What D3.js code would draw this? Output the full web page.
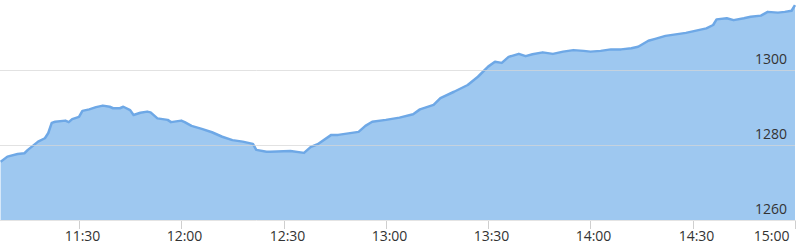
<!DOCTYPE html>
<html>
<head>
<meta charset="utf-8">
<script src="https://cdn.jsdelivr.net/npm/d3@7"></script>
<style>
  body { margin: 0; background: #fff; }
  svg { display: block; font-family: "Open Sans", sans-serif; }
  .tick-label { font-size: 14px; fill: #333; }
</style>
</head>
<body>
<div id="chart"></div>
<script>
// intraday index level
const times = [
    "11:07", "11:09", "11:12", "11:14", "11:15", "11:18", "11:20", "11:21", "11:22", "11:23",
    "11:26", "11:27", "11:28", "11:30", "11:31", "11:33", "11:35", "11:37", "11:39", "11:40",
    "11:42", "11:43", "11:45", "11:46", "11:48", "11:50", "11:51", "11:53", "11:56", "11:57",
    "12:00", "12:01", "12:03", "12:06", "12:09", "12:12", "12:15", "12:18", "12:21", "12:22",
    "12:25", "12:26", "12:32", "12:36", "12:38", "12:40", "12:44", "12:46", "12:49", "12:52",
    "12:54", "12:56", "13:00", "13:04", "13:08", "13:10", "13:14", "13:16", "13:20", "13:24",
    "13:27", "13:30", "13:32", "13:34", "13:36", "13:39", "13:41", "13:43", "13:46", "13:49",
    "13:52", "13:55", "13:58", "14:00", "14:03", "14:06", "14:09", "14:12", "14:14", "14:17",
    "14:19", "14:22", "14:25", "14:28", "14:31", "14:34", "14:36", "14:37", "14:40", "14:42",
    "14:45", "14:47", "14:50", "14:52", "14:55", "14:57", "14:59", "15:00"
];
const values = [
    1275.5, 1276.9, 1277.6, 1277.8, 1278.7, 1280.9, 1281.8, 1283.2, 1285.9, 1286.2,
    1286.5, 1286.1, 1286.9, 1287.5, 1289.1, 1289.5, 1290.1, 1290.5, 1290.2, 1289.8,
    1289.8, 1290.2, 1289.3, 1288.0, 1288.6, 1288.9, 1288.7, 1287.1, 1286.7, 1286.1,
    1286.5, 1286.1, 1285.1, 1284.3, 1283.4, 1282.2, 1281.3, 1280.9, 1280.3, 1278.7,
    1278.2, 1278.2, 1278.4, 1277.9, 1279.5, 1280.2, 1282.7, 1282.7, 1283.1, 1283.5,
    1285.1, 1286.2, 1286.7, 1287.3, 1288.2, 1289.5, 1290.7, 1292.5, 1294.2, 1296.0,
    1298.2, 1300.9, 1302.2, 1301.9, 1303.5, 1304.3, 1303.7, 1304.2, 1304.7, 1304.3,
    1304.9, 1305.3, 1305.1, 1304.9, 1305.1, 1305.5, 1305.5, 1305.8, 1306.2, 1307.8,
    1308.3, 1309.1, 1309.5, 1309.9, 1310.5, 1311.1, 1312.0, 1313.5, 1313.8, 1313.3,
    1313.8, 1314.2, 1314.5, 1315.5, 1315.3, 1315.5, 1315.8, 1317.3
];
const xTicks = ["11:30", "12:00", "12:30", "13:00", "13:30", "14:00", "14:30", "15:00"];
const yTicks = [1260, 1280, 1300];

const parseTime = d3.timeParse("%H:%M");
const data = times.map((t, i) => ({ t: parseTime(t), v: values[i] }));

const width = 800, height = 246;
const plotRight = 795, plotBottom = 220;

const svg = d3.select("#chart").append("svg")
    .attr("width", width)
    .attr("height", height);

// scales
const x = d3.scaleTime()
    .domain([parseTime("11:30"), parseTime("15:00")])
    .range([79, plotRight]);

const y = d3.scaleLinear()
    .domain([1260, 1300])
    .range([plotBottom, 70]);

// area + line
const area = d3.area()
    .x(d => x(d.t))
    .y0(plotBottom)
    .y1(d => y(d.v));

const line = d3.line()
    .x(d => x(d.t))
    .y(d => y(d.v));

svg.append("path")
    .datum(data)
    .attr("d", area)
    .attr("fill", "#9ec8f0");

svg.append("path")
    .datum(data)
    .attr("d", line)
    .attr("fill", "none")
    .attr("stroke", "#6ea8e6")
    .attr("stroke-width", 2.5)
    .attr("stroke-linejoin", "round");

// horizontal grid lines (1260 sits on the bottom edge)
svg.selectAll(".grid")
    .data(yTicks.filter(d => d !== 1260))
    .enter().append("line")
    .attr("class", "grid")
    .attr("x1", 0)
    .attr("x2", plotRight)
    .attr("y1", d => Math.round(y(d)) + 0.5)
    .attr("y2", d => Math.round(y(d)) + 0.5)
    .attr("stroke", "#d6d6d6")
    .attr("stroke-opacity", 0.7);

// y labels inside the plot, right side
svg.selectAll(".y-label")
    .data(yTicks)
    .enter().append("text")
    .attr("class", "tick-label y-label")
    .attr("x", 787)
    .attr("y", d => y(d) - 6)
    .attr("text-anchor", "end")
    .text(d => d);

// x axis
const xAxis = svg.append("g")
    .attr("class", "x-axis")
    .attr("transform", "translate(0," + plotBottom + ")");

xAxis.append("line")
    .attr("x1", 0)
    .attr("x2", plotRight + 1)
    .attr("y1", 0.5)
    .attr("y2", 0.5)
    .attr("stroke", "#e4e4e4");

const ticks = xAxis.selectAll(".x-tick")
    .data(xTicks)
    .enter().append("g")
    .attr("class", "x-tick")
    .attr("transform", d => "translate(" + (Math.round(x(parseTime(d))) + 0.5) + ",0)");

ticks.append("line")
    .attr("y1", 1)
    .attr("y2", 9)
    .attr("stroke", "#cfcfcf");

ticks.append("text")
    .attr("class", "tick-label")
    .attr("x", (d, i) => i === xTicks.length - 1 ? -6 : 3)
    .attr("y", 21)
    .attr("text-anchor", (d, i) => i === xTicks.length - 1 ? "end" : "middle")
    .text(d => d);
</script>
</body>
</html>
